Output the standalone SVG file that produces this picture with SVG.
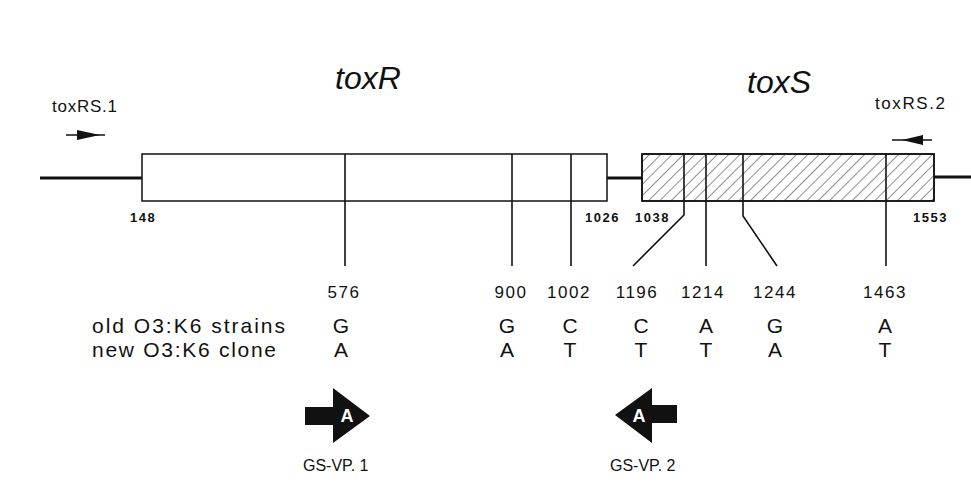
<svg xmlns="http://www.w3.org/2000/svg" width="971" height="487" viewBox="0 0 971 487">
<defs>
<pattern id="hatch" patternUnits="userSpaceOnUse" width="8" height="8" patternTransform="rotate(45)">
<line x1="0" y1="0" x2="0" y2="8" stroke="#333" stroke-width="1.1"/>
</pattern>
</defs>
<style>
text{font-family:"Liberation Sans",Arial,sans-serif;fill:#111}
.gene{font-size:32px;font-style:italic}
.primer{font-size:17px}
.pos{font-size:13px;font-weight:bold;letter-spacing:1.5px}
.num{font-size:17px;letter-spacing:1.5px}
.nt{font-size:21px}
.lab{font-size:21px}
.gs{font-size:16px}
.box{fill:#fff;stroke:#111;stroke-width:1.5}
.dna{stroke:#111;stroke-width:3;fill:none}
.snp{stroke:#111;stroke-width:1.6;fill:none}
.pa{stroke:#111;stroke-width:1.5;fill:none}
.big{fill:#111}
.A{font-size:18px;font-weight:bold;fill:#fff}
</style>
<rect width="971" height="487" fill="#fff"/>
<g id="backbone">
<line class="dna" x1="40" y1="178" x2="142" y2="178"/>
<line class="dna" x1="607" y1="178" x2="642" y2="178"/>
<line class="dna" x1="934" y1="177" x2="971" y2="177"/>
</g>
<g id="toxR">
<rect class="box" x="142" y="154" width="465" height="47"/>
<text class="gene" x="335" y="89">toxR</text>
<text class="pos" x="130" y="222">148</text>
<text class="pos" x="585" y="222">1026</text>
</g>
<g id="toxS">
<rect class="box" x="642" y="154" width="292" height="47"/>
<rect x="642" y="154" width="292" height="47" fill="url(#hatch)" stroke="#111" stroke-width="1.5"/>
<text class="gene" x="747" y="93">toxS</text>
<text class="pos" x="635" y="222">1038</text>
<text class="pos" x="913" y="222">1553</text>
</g>
<g id="toxRS1">
<text class="primer" x="52" y="112" textLength="65" lengthAdjust="spacing">toxRS.1</text>
<line class="pa" x1="66" y1="135" x2="105" y2="135"/>
<polygon class="big" points="77,130 100,135 77,140"/>
</g>
<g id="toxRS2">
<text class="primer" x="875" y="109" textLength="70" lengthAdjust="spacing">toxRS.2</text>
<line class="pa" x1="892" y1="140" x2="932" y2="140"/>
<polygon class="big" points="923,135 902,140 923,145"/>
</g>
<g id="connectors">
<polyline class="snp" points="345,154 345,266"/>
<polyline class="snp" points="512,154 512,266"/>
<polyline class="snp" points="571,154 571,266"/>
<polyline class="snp" points="684,154 684,215 633,266"/>
<polyline class="snp" points="706,154 706,266"/>
<polyline class="snp" points="743,154 743,216 777,266"/>
<polyline class="snp" points="886,154 886,266"/>
</g>
<g id="positions" text-anchor="middle">
<text class="num" x="344" y="298">576</text>
<text class="num" x="511" y="298">900</text>
<text class="num" x="569" y="298">1002</text>
<text class="num" x="637" y="298">1196</text>
<text class="num" x="703" y="298">1214</text>
<text class="num" x="775" y="298">1244</text>
<text class="num" x="885" y="298">1463</text>
</g>
<g id="old">
<text class="lab" x="92" y="333" textLength="193" lengthAdjust="spacing">old O3:K6 strains</text>
<g text-anchor="middle">
<text class="nt" x="341" y="333">G</text>
<text class="nt" x="507" y="333">G</text>
<text class="nt" x="570" y="333">C</text>
<text class="nt" x="641" y="333">C</text>
<text class="nt" x="706" y="333">A</text>
<text class="nt" x="775" y="333">G</text>
<text class="nt" x="885" y="333">A</text>
</g>
</g>
<g id="new">
<text class="lab" x="92" y="357" textLength="184" lengthAdjust="spacing">new O3:K6 clone</text>
<g text-anchor="middle">
<text class="nt" x="341" y="357">A</text>
<text class="nt" x="507" y="357">A</text>
<text class="nt" x="570" y="357">T</text>
<text class="nt" x="641" y="357">T</text>
<text class="nt" x="706" y="357">T</text>
<text class="nt" x="775" y="357">A</text>
<text class="nt" x="885" y="357">T</text>
</g>
</g>
<g id="GSVP1">
<polygon class="big" points="305,407 333,407 333,388 370,416 333,443 333,425 305,425"/>
<text class="A" x="347" y="422" text-anchor="middle">A</text>
<text class="gs" x="303" y="471">GS-VP. 1</text>
</g>
<g id="GSVP2">
<polygon class="big" points="677,405 652,405 652,388 615,415 652,443 652,423 677,423"/>
<text class="A" x="639" y="422" text-anchor="middle">A</text>
<text class="gs" x="610" y="471">GS-VP. 2</text>
</g>
</svg>
